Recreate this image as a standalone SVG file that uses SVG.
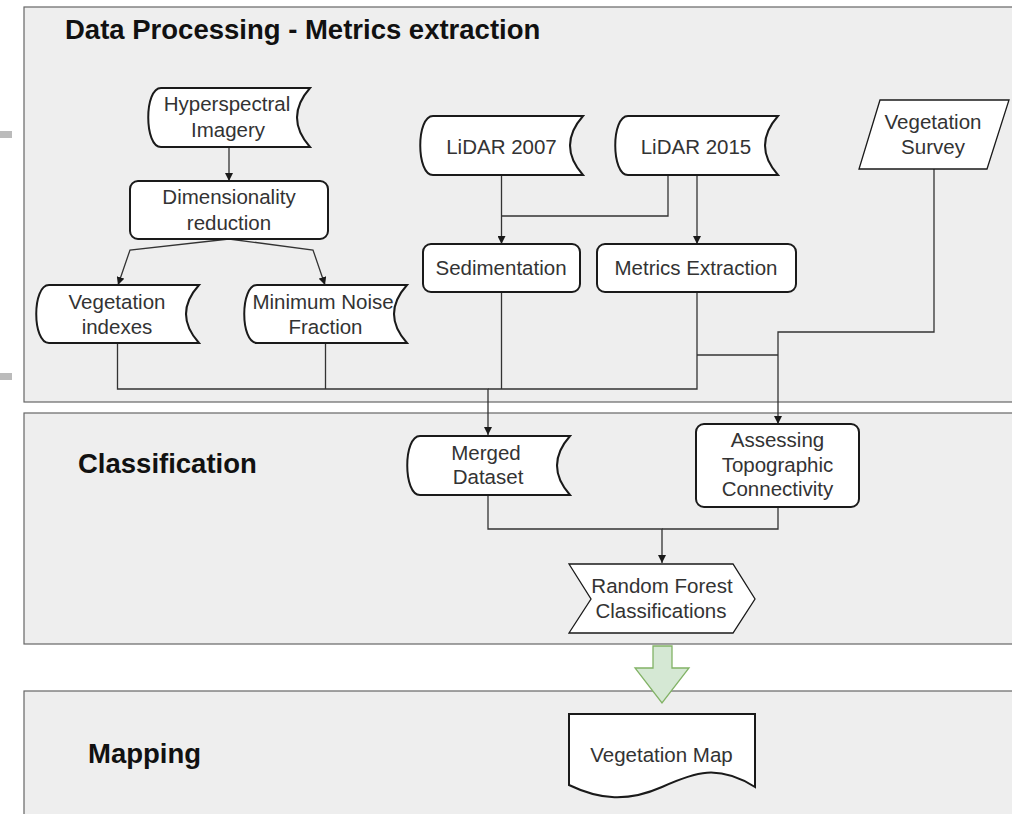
<svg xmlns="http://www.w3.org/2000/svg" width="1012" height="814" viewBox="0 0 1012 814">
<defs>
<style>
.panel{fill:#eeeeee;stroke:#666666;stroke-width:1.2}
.node{fill:#ffffff;stroke:#1a1a1a;stroke-width:2}
.thin{fill:#ffffff;stroke:#1a1a1a;stroke-width:1.3}
.t{font-family:"Liberation Sans",Arial,sans-serif;font-size:20.5px;fill:#333333;text-anchor:middle}
.h{font-family:"Liberation Sans",Arial,sans-serif;font-size:27.5px;font-weight:bold;fill:#111111}
.c{fill:none;stroke:#333333;stroke-width:1.3}
</style>
<marker id="arr" viewBox="0 0 10 10" refX="10" refY="5" markerWidth="8" markerHeight="8" markerUnits="userSpaceOnUse" orient="auto">
<path d="M0,0 L10,5 L0,10 Z" fill="#1a1a1a"/>
</marker>
</defs>
<rect width="1012" height="814" fill="#ffffff"/>
<rect x="0" y="131" width="12" height="7" fill="#bbbbbb"/>
<rect x="0" y="373" width="12" height="7" fill="#bbbbbb"/>
<g id="panel-processing"><rect class="panel" x="24" y="7" width="1000" height="395"/><text class="h" x="65" y="39">Data Processing - Metrics extraction</text></g>
<g id="panel-classification"><rect class="panel" x="24" y="413" width="1000" height="231"/><text class="h" x="78" y="473">Classification</text></g>
<g id="panel-mapping"><rect class="panel" x="24" y="691" width="1000" height="140"/><text class="h" x="88" y="763">Mapping</text></g>
<g id="connectors">
<path class="c" d="M229,147 V181" marker-end="url(#arr)"/>
<path class="c" d="M229,239 L130,250 L118,285" marker-end="url(#arr)"/>
<path class="c" d="M229,239 L313,250 L325,285" marker-end="url(#arr)"/>
<path class="c" d="M117.5,343 V389 H488 V435" marker-end="url(#arr)"/>
<path class="c" d="M325.5,343 V389"/>
<path class="c" d="M501.5,292 V389"/>
<path class="c" d="M697,292 V389 H488"/>
<path class="c" d="M697,355 H778"/>
<path class="c" d="M934,169 V332 H778 V424" marker-end="url(#arr)"/>
<path class="c" d="M501.5,175 V244" marker-end="url(#arr)"/>
<path class="c" d="M668,175 V216 H501.5"/>
<path class="c" d="M697,175 V244" marker-end="url(#arr)"/>
<path class="c" d="M488,495 V529 H662 V563" marker-end="url(#arr)"/>
<path class="c" d="M778,507 V529 H662"/>
<path d="M653,646 H672 V668 H689 L662,703 L635,668 H653 Z" fill="#d5e8d4" stroke="#82b366" stroke-width="1.3"/>
</g>
<g id="hyperspectral"><path class="node" d="M161,88 H310 Q284,117.5 310,147 H161 C144,147 144,88 161,88 Z"/><text class="t" x="227" y="111">Hyperspectral</text><text class="t" x="228" y="137">Imagery</text></g>
<g id="dimensionality"><rect class="node" x="130" y="181" width="198" height="58" rx="8"/><text class="t" x="229" y="204">Dimensionality</text><text class="t" x="229" y="229.5">reduction</text></g>
<g id="veg-indexes"><path class="node" d="M49,285 H199 Q173,314 199,343 H49 C32,343 32,285 49,285 Z"/><text class="t" x="117" y="308.5">Vegetation</text><text class="t" x="117" y="333.5">indexes</text></g>
<g id="mnf"><path class="node" d="M257,285 H407 Q381,314 407,343 H257 C240,343 240,285 257,285 Z"/><text class="t" x="323" y="308.5">Minimum Noise</text><text class="t" x="325.5" y="333.5">Fraction</text></g>
<g id="lidar2007"><path class="node" d="M433,116 H583 Q557,145.5 583,175 H433 C416,175 416,116 433,116 Z"/><text class="t" x="501.5" y="153.5">LiDAR 2007</text></g>
<g id="lidar2015"><path class="node" d="M628,116 H778 Q752,145.5 778,175 H628 C611,175 611,116 628,116 Z"/><text class="t" x="696" y="153.5">LiDAR 2015</text></g>
<g id="veg-survey"><path class="thin" d="M880,100 H1009 L987,169 H859 Z"/><text class="t" x="933" y="128.5">Vegetation</text><text class="t" x="933" y="153.5">Survey</text></g>
<g id="sedimentation"><rect class="node" x="423" y="244" width="157" height="48" rx="8"/><text class="t" x="501" y="274.5">Sedimentation</text></g>
<g id="metrics"><rect class="node" x="597" y="244" width="199" height="48" rx="8"/><text class="t" x="696" y="275">Metrics Extraction</text></g>
<g id="merged"><path class="node" d="M420,436 H570 Q544,465.5 570,495 H420 C403,495 403,436 420,436 Z"/><text class="t" x="486" y="459.5">Merged</text><text class="t" x="488" y="484">Dataset</text></g>
<g id="assessing"><rect class="node" x="696" y="424" width="163" height="83" rx="8"/><text class="t" x="777.5" y="446.5">Assessing</text><text class="t" x="777.5" y="471.5">Topographic</text><text class="t" x="777.5" y="496">Connectivity</text></g>
<g id="random-forest"><path class="thin" d="M569,564 H733 L755,599 L733,633 H569 L591,599 Z"/><text class="t" x="662" y="592.5">Random Forest</text><text class="t" x="661" y="617.5">Classifications</text></g>
<g id="veg-map"><path class="node" d="M569,714 H755 V787 C718,764 695,772 662,787 C628,802 600,800 569,785 Z"/><text class="t" x="661.5" y="762">Vegetation Map</text></g>
</svg>
